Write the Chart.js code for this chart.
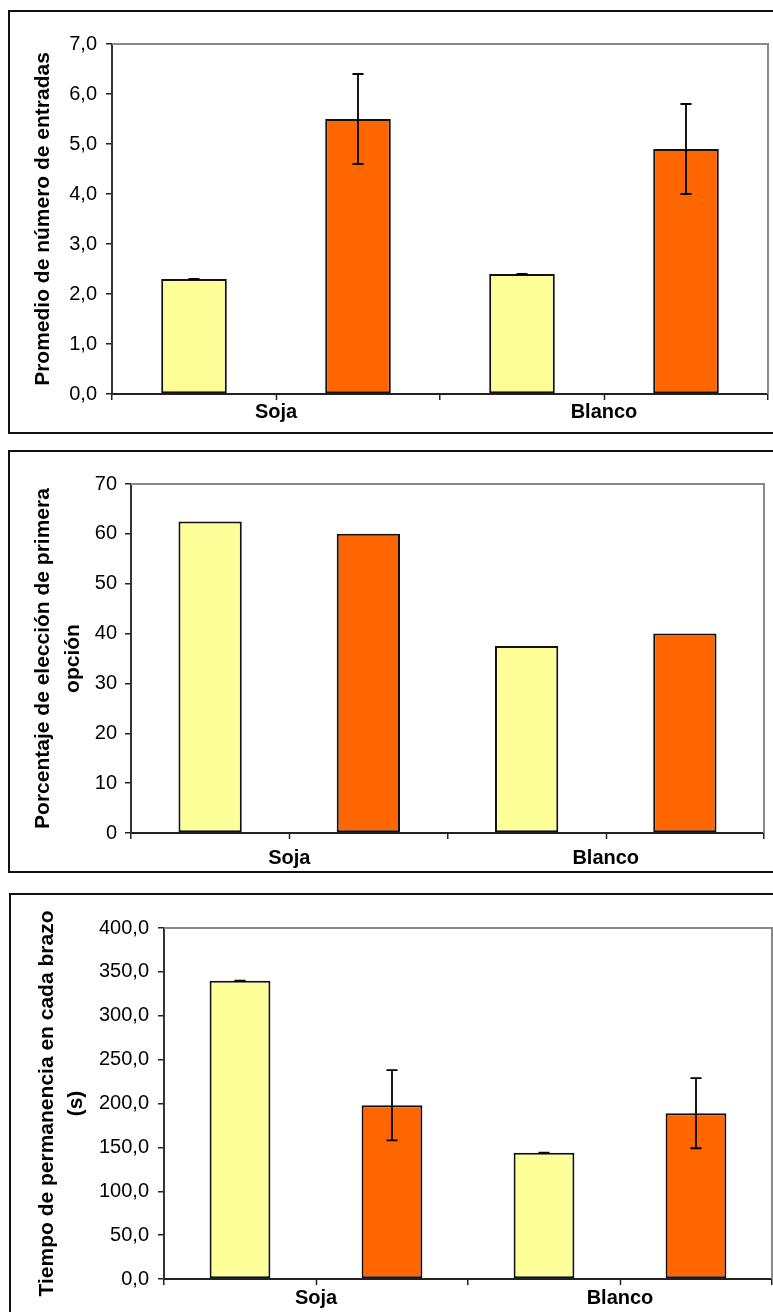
<!DOCTYPE html>
<html>
<head>
<meta charset="utf-8">
<script src="https://cdn.jsdelivr.net/npm/chart.js@4/dist/chart.umd.min.js"></script>
<style>
  html, body { margin: 0; padding: 0; background: #fff; }
  body { width: 773px; height: 1312px; overflow: hidden; position: relative; }
  .frame { position: absolute; box-sizing: border-box; border: 2px solid #111; }
  .panel { position: absolute; left: 0; width: 773px; }
  canvas { display: block; }
</style>
</head>
<body>
<div class="frame" style="left:8px; top:10px; width:800px; height:424px;"></div>
<div class="frame" style="left:8px; top:450px; width:800px; height:423px;"></div>
<div class="frame" style="left:9px; top:893px; width:800px; height:500px;"></div>

<div class="panel" style="top:0; height:440px;"><canvas id="c1" width="773" height="440"></canvas></div>
<div class="panel" style="top:440px; height:440px;"><canvas id="c2" width="773" height="440"></canvas></div>
<div class="panel" style="top:880px; height:432px;"><canvas id="c3" width="773" height="432"></canvas></div>

<script>
// Categories shared by the three charts
const categories = ['Soja', 'Blanco'];

// Promedio de número de entradas
const entradasAmarilla = [2.3, 2.4];
const entradasNaranja = [5.5, 4.9];
const entradasErrAmarilla = [0, 0];
const entradasErrNaranja = [0.9, 0.9];

// Porcentaje de elección de primera opción
const eleccionAmarilla = [62.5, 37.5];
const eleccionNaranja = [60, 40];

// Tiempo de permanencia en cada brazo (s)
const tiempoAmarilla = [340, 144];
const tiempoNaranja = [198, 189];
const tiempoErrAmarilla = [0, 0];
const tiempoErrNaranja = [40, 40];

const FONT = "'Liberation Sans', Arial, Helvetica, sans-serif";
const AMARILLO = '#FFFF99';
const NARANJA = '#FF6600';

// Gray frame on the top and right sides of the plot area
const plotFrame = {
  id: 'plotFrame',
  beforeDatasetsDraw(chart) {
    const { ctx, chartArea: a } = chart;
    ctx.save();
    ctx.strokeStyle = '#8a8a8a';
    ctx.lineWidth = 2;
    ctx.beginPath();
    ctx.moveTo(a.left, a.top);
    ctx.lineTo(a.right, a.top);
    ctx.lineTo(a.right, a.bottom);
    ctx.stroke();
    ctx.restore();
  }
};

// Extra tick marks under each category centre
const centerTicks = {
  id: 'centerTicks',
  afterDraw(chart) {
    const { ctx, chartArea } = chart;
    const xs = chart.scales.x;
    ctx.save();
    ctx.strokeStyle = '#222';
    ctx.lineWidth = 1.5;
    chart.data.labels.forEach((_, i) => {
      const px = Math.round(xs.getPixelForValue(i)) + 0.5;
      ctx.beginPath();
      ctx.moveTo(px, chartArea.bottom);
      ctx.lineTo(px, chartArea.bottom + 6);
      ctx.stroke();
    });
    ctx.restore();
  }
};

// Vertical error bars with caps, one array of errors per dataset
const errorBars = {
  id: 'errorBars',
  afterDatasetsDraw(chart, args, opts) {
    const errs = opts.errors;
    if (!errs) return;
    const { ctx } = chart;
    const ys = chart.scales.y;
    ctx.save();
    ctx.strokeStyle = '#000';
    ctx.lineWidth = 1.8;
    errs.forEach((arr, di) => {
      const meta = chart.getDatasetMeta(di);
      const vals = chart.data.datasets[di].data;
      meta.data.forEach((bar, j) => {
        const e = arr[j];
        const top = ys.getPixelForValue(vals[j] + e);
        const bot = ys.getPixelForValue(vals[j] - e);
        const x = bar.x;
        ctx.beginPath();
        ctx.moveTo(x, top); ctx.lineTo(x, bot);
        ctx.moveTo(x - 5.5, top); ctx.lineTo(x + 5.5, top);
        ctx.moveTo(x - 5.5, bot); ctx.lineTo(x + 5.5, bot);
        ctx.stroke();
      });
    });
    ctx.restore();
  }
};

function makeChart(id, p) {
  const canvas = document.getElementById(id);
  const H = canvas.height;
  return new Chart(canvas, {
    type: 'bar',
    data: {
      labels: categories,
      datasets: [
        { data: p.amarilla, backgroundColor: AMARILLO, borderColor: '#111', borderWidth: 2, borderSkipped: false },
        { data: p.naranja, backgroundColor: NARANJA, borderColor: '#111', borderWidth: 2, borderSkipped: false }
      ]
    },
    options: {
      responsive: false,
      animation: false,
      devicePixelRatio: 1,
      events: [],
      layout: { padding: { left: 0, top: p.area.top, right: 773 - p.area.right, bottom: 0 } },
      datasets: { bar: { categoryPercentage: 1.0, barPercentage: 0.4 } },
      plugins: {
        legend: { display: false },
        tooltip: { enabled: false },
        errorBars: { errors: p.errors }
      },
      scales: {
        x: {
          afterFit(scale) { scale.height = H - p.area.bottom; },
          grid: { offset: true, drawOnChartArea: false, drawTicks: true, tickLength: 6, color: '#222', lineWidth: 1.5 },
          border: { display: true, color: '#222', width: 2 },
          ticks: { color: '#000', padding: p.xPad, font: { family: FONT, size: 20, weight: 'bold' } }
        },
        y: {
          min: 0, max: p.max,
          afterFit(scale) { scale.width = p.area.left; },
          grid: { drawOnChartArea: false, drawTicks: true, tickLength: 6, color: '#222', lineWidth: 1.5 },
          border: { display: true, color: '#333', width: 2 },
          ticks: {
            stepSize: p.step,
            padding: p.yPad,
            color: '#000',
            font: { family: FONT, size: 20 },
            callback: (v) => p.decimals ? v.toFixed(1).replace('.', ',') : String(v)
          },
          title: {
            display: true,
            text: p.title,
            color: '#000',
            padding: { top: p.titlePad, bottom: 0 },
            font: { family: FONT, size: 21, weight: 'bold', lineHeight: p.titleLH }
          }
        }
      }
    },
    plugins: [plotFrame, errorBars, centerTicks]
  });
}

makeChart('c1', {
  amarilla: entradasAmarilla, naranja: entradasNaranja,
  errors: [entradasErrAmarilla, entradasErrNaranja],
  max: 7, step: 1, decimals: true,
  area: { left: 112, top: 44, right: 768, bottom: 394 },
  xPad: 0, yPad: 9,
  title: 'Promedio de número de entradas', titlePad: 31, titleLH: 1.2
});

makeChart('c2', {
  amarilla: eleccionAmarilla, naranja: eleccionNaranja,
  errors: null,
  max: 70, step: 10, decimals: false,
  area: { left: 131, top: 44, right: 764, bottom: 393 },
  xPad: 7, yPad: 8,
  title: ['Porcentaje de elección de primera', 'opción'], titlePad: 28, titleLH: 1.43
});

makeChart('c3', {
  amarilla: tiempoAmarilla, naranja: tiempoNaranja,
  errors: [tiempoErrAmarilla, tiempoErrNaranja],
  max: 400, step: 50, decimals: true,
  area: { left: 164, top: 48, right: 772, bottom: 399 },
  xPad: 1, yPad: 9,
  title: ['Tiempo de permanencia en cada brazo', '(s)'], titlePad: 32, titleLH: 1.41
});
</script>
</body>
</html>
